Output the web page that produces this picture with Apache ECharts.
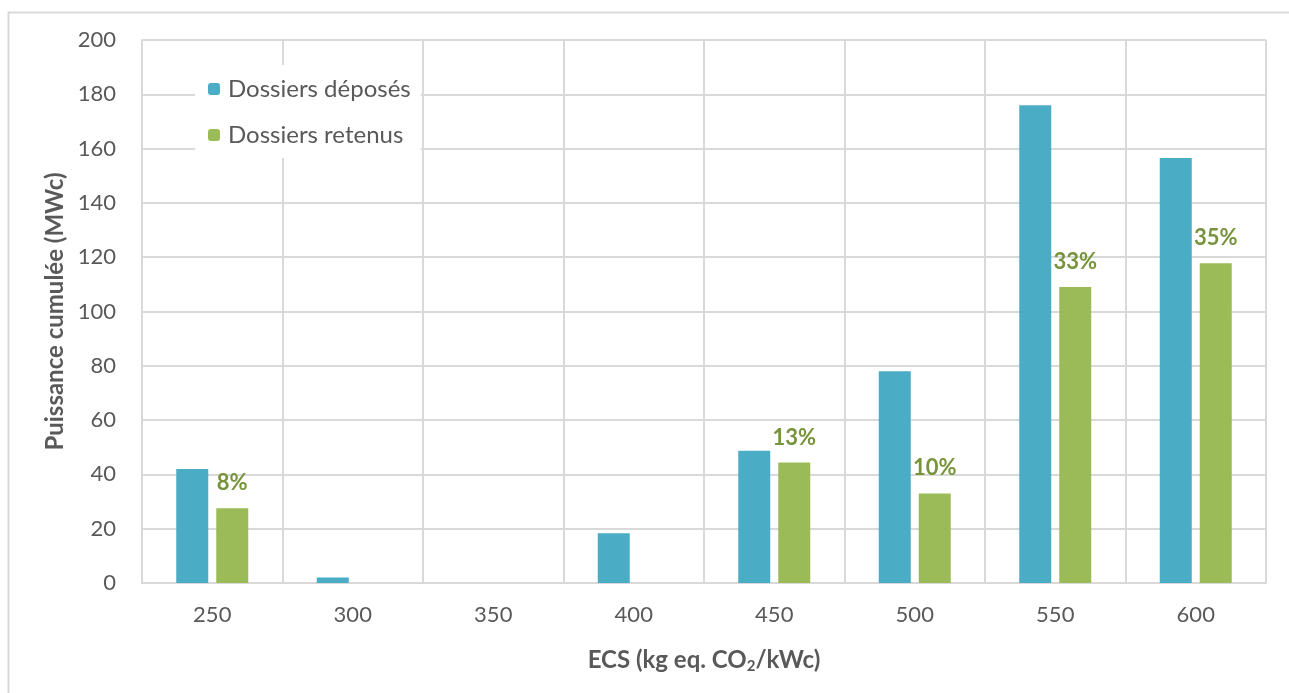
<!DOCTYPE html>
<html>
<head>
<meta charset="utf-8">
<script src="https://cdn.jsdelivr.net/npm/echarts@6/dist/echarts.min.js"></script>
<style>html,body{margin:0;padding:0;background:#fff;}#c{width:1289px;height:693px;}</style>
</head>
<body>
<div id="c"></div>
<script>
const categories = ['250', '300', '350', '400', '450', '500', '550', '600'];
const deposes = [42, 2, null, 18.3, 48.7, 78, 176, 156.5];
const retenus = [27.5, null, null, null, 44.4, 33, 109, 117.8];
const retenusLabels = ['8%', '', '', '', '13%', '10%', '33%', '35%'];
const yTicks = [0, 20, 40, 60, 80, 100, 120, 140, 160, 180, 200];

const FONT = 'Lato';
const chart = echarts.init(document.getElementById('c'));
chart.setOption({
  animation: false,
  backgroundColor: '#fff',
  textStyle: { fontFamily: FONT },
  graphic: [{
    type: 'rect', shape: { x: 8.5, y: 12.5, width: 1300, height: 700 },
    style: { fill: 'none', stroke: '#d9d9d9', lineWidth: 2 }, silent: true, z: -10
  }],
  grid: { left: 142, right: 23, top: 40, bottom: 110, containLabel: false },
  legend: {
    orient: 'vertical', left: 195, top: 65, itemWidth: 12, itemHeight: 12, itemGap: 22,
    backgroundColor: '#fff', padding: [12, 10, 11, 13],
    textStyle: { fontFamily: FONT, fontSize: 24, color: '#595959', padding: [0, 0, 0, 3] },
    data: ['Dossiers déposés', 'Dossiers retenus']
  },
  xAxis: {
    type: 'category', data: categories,
    axisLine: { show: true, lineStyle: { color: '#d9d9d9', width: 2 } },
    axisTick: { show: false },
    splitLine: { show: true, lineStyle: { color: '#d9d9d9', width: 2 } },
    axisLabel: { fontFamily: FONT, fontSize: 22, color: '#595959', margin: 21 },
    name: 'ECS (kg eq. CO{sub|2}/kWc)',
    nameLocation: 'middle', nameGap: 64,
    nameTextStyle: {
      fontFamily: FONT, fontSize: 24, fontWeight: 'bold', color: '#595959',
      rich: { sub: { fontFamily: FONT, fontSize: 15, fontWeight: 'bold', color: '#595959', verticalAlign: 'bottom', padding: [12, 0, 0, 0] } }
    }
  },
  yAxis: {
    type: 'value', min: 0, max: 200, interval: 20,
    axisLine: { show: true, lineStyle: { color: '#d9d9d9', width: 2 } },
    axisTick: { show: false },
    splitLine: { show: true, lineStyle: { color: '#d9d9d9', width: 2 } },
    axisLabel: { fontFamily: FONT, fontSize: 22, color: '#595959', margin: 26 },
    name: 'Puissance cumulée (MWc)',
    nameLocation: 'middle', nameGap: 74, nameRotate: 90,
    nameTextStyle: { fontFamily: FONT, fontSize: 24, fontWeight: 'bold', color: '#595959' }
  },
  series: [
    {
      name: 'Dossiers déposés', type: 'bar', data: deposes,
      barWidth: 32, barGap: '25%',
      itemStyle: { color: '#4BACC6' }
    },
    {
      name: 'Dossiers retenus', type: 'bar', data: retenus,
      barWidth: 32,
      itemStyle: { color: '#9BBB59' },
      label: {
        show: true, position: 'top', distance: 14,
        formatter: p => retenusLabels[p.dataIndex],
        fontFamily: FONT, fontSize: 22, fontWeight: 'bold', color: '#77933C'
      }
    }
  ]
});
</script>
</body>
</html>
